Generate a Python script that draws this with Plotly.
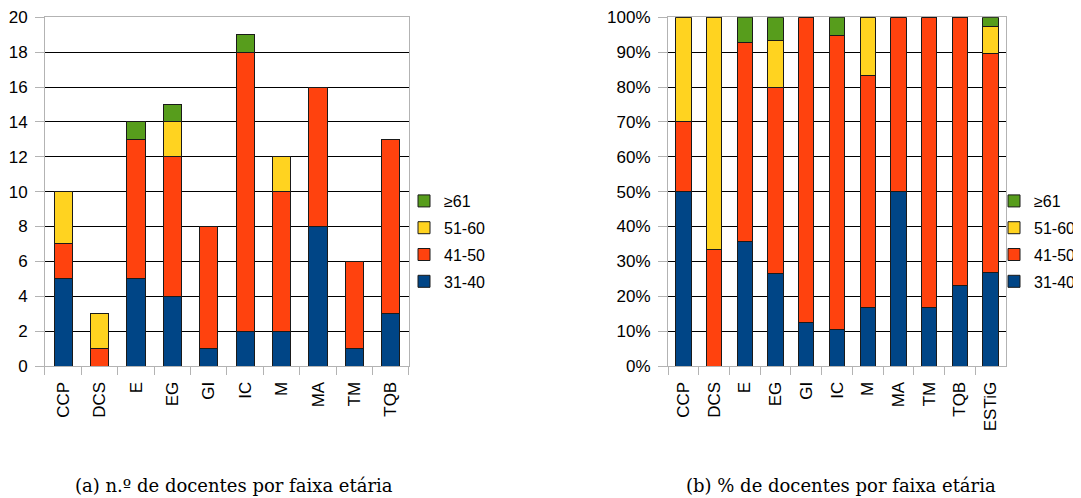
import numpy as np
import plotly.graph_objects as go
from plotly.subplots import make_subplots

# counts of teachers per department and age band
depts = ["CCP", "DCS", "E", "EG", "GI", "IC", "M", "MA", "TM", "TQB"]
age_31_40 = [5, 0, 5, 4, 1, 2, 2, 8, 1, 3]
age_41_50 = [2, 1, 8, 8, 7, 16, 8, 8, 5, 10]
age_51_60 = [3, 2, 0, 2, 0, 0, 2, 0, 0, 0]
age_61 = [0, 0, 1, 1, 0, 1, 0, 0, 0, 0]

# school total column, only shown in the percentage chart
total_name = "ESTiG"
total_31_40 = 31
total_41_50 = 73
total_51_60 = 9
total_61 = 3

bands = ["31-40", "41-50", "51-60", "≥61"]
colors = ["#004586", "#ff420e", "#ffd320", "#579d1c"]

counts = [age_31_40, age_41_50, age_51_60, age_61]
totals = [total_31_40, total_41_50, total_51_60, total_61]

# percentages
depts_b = depts + [total_name]
mat = np.array([c + [t] for c, t in zip(counts, totals)], dtype=float)
pct = mat / mat.sum(axis=0) * 100

fig = make_subplots(rows=1, cols=2)

for i, band in enumerate(bands):
    # oldest band listed first in the legends
    rank = len(bands) - i
    fig.add_trace(
        go.Bar(
            x=depts,
            y=counts[i],
            name=band,
            marker=dict(color=colors[i], line=dict(color="#1a1a1a", width=1)),
            legend="legend",
            legendgroup="a" + band,
            legendrank=rank,
        ),
        row=1,
        col=1,
    )
    fig.add_trace(
        go.Bar(
            x=depts_b,
            y=pct[i],
            name=band,
            marker=dict(color=colors[i], line=dict(color="#1a1a1a", width=1)),
            legend="legend2",
            legendgroup="b" + band,
            legendrank=rank,
        ),
        row=1,
        col=2,
    )

font_sans = "Liberation Sans, Arial, sans-serif"
axis_common = dict(
    showline=True,
    linecolor="#b3b3b3",
    linewidth=1,
    mirror=True,
    automargin=False,
    tickfont=dict(family=font_sans, size=17, color="#000"),
)

fig.update_xaxes(
    ticks="outside",
    tickson="boundaries",
    ticklen=8,
    tickcolor="#b3b3b3",
    tickangle=-90,
    ticklabelstandoff=8,
    showgrid=False,
    **axis_common,
)
fig.update_yaxes(
    ticks="outside",
    ticklen=9,
    tickcolor="#b3b3b3",
    ticklabelstandoff=4,
    showgrid=True,
    gridcolor="#000000",
    gridwidth=1,
    zeroline=False,
    **axis_common,
)

# page body has an 8px margin, so the figure is sized and placed for that
fig.update_xaxes(domain=[0.03448, 0.37372], row=1, col=1)
fig.update_xaxes(domain=[0.61510, 0.93010], row=1, col=2)
fig.update_yaxes(domain=[0.26939, 0.98102], range=[0, 20], dtick=2, row=1, col=1)
fig.update_yaxes(
    domain=[0.26939, 0.98102], range=[0, 100], dtick=10, ticksuffix="%", row=1, col=2
)

legend_common = dict(
    traceorder="grouped",
    font=dict(family=font_sans, size=16, color="#000"),
    bgcolor="rgba(0,0,0,0)",
    yanchor="top",
    y=0.6408,
    tracegroupgap=3,
    itemwidth=30,
)

fig.update_layout(
    width=1073,
    height=490,
    margin=dict(l=0, r=0, t=0, b=0),
    barmode="stack",
    bargap=0.5,
    plot_bgcolor="white",
    paper_bgcolor="white",
    showlegend=True,
    legend=dict(x=0.36906, xanchor="left", **legend_common),
    legend2=dict(x=1.0, xanchor="right", **legend_common),
)

caption_font = dict(family="DejaVu Serif, Liberation Serif, serif", size=18, color="#000")
fig.add_annotation(
    text="(a) n.º de docentes por faixa etária",
    x=0.2106, y=0.0265, xref="paper", yref="paper",
    xanchor="center", yanchor="middle",
    showarrow=False, font=caption_font,
)
fig.add_annotation(
    text="(b) % de docentes por faixa etária",
    x=0.7763, y=0.0265, xref="paper", yref="paper",
    xanchor="center", yanchor="middle",
    showarrow=False, font=caption_font,
)

fig.write_html("out.html")
